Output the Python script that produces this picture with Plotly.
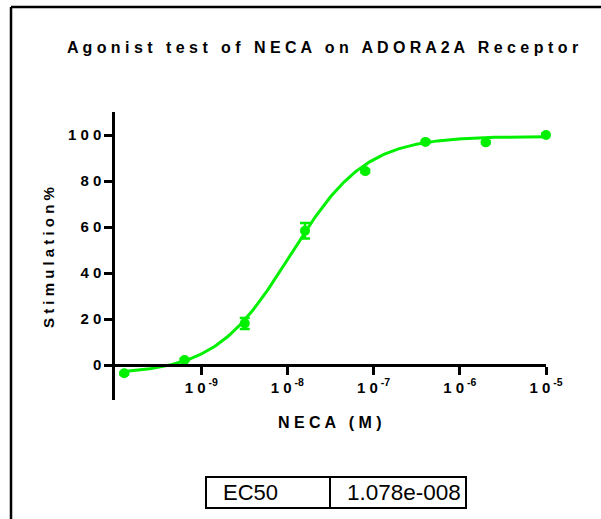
import numpy as np
import plotly.graph_objects as go

# ---- data ----
conc_M = [1.28e-10, 6.4e-10, 3.2e-9, 1.6e-8, 8.0e-8, 4.0e-7, 2.0e-6, 1.0e-5]
stim_pct = [-3.6, 2.2, 18.1, 58.4, 84.3, 97.0, 96.8, 100.0]
stim_err = [0.5, 0.5, 2.4, 3.4, 0.6, 0.5, 0.5, 0.5]

# 4-parameter logistic fit parameters (EC50 as reported)
fit_bottom = -4.0
fit_top = 99.4
fit_ec50 = 1.078e-8
fit_hill = 1.0

x_tick_vals = [1e-9, 1e-8, 1e-7, 1e-6, 1e-5]
x_tick_exps = ["-9", "-8", "-7", "-6", "-5"]
y_tick_vals = [0, 20, 40, 60, 80, 100]
table_labels = ["EC50", "1.078e-008"]

title_text = "Agonist test of NECA on ADORA2A Receptor"
x_title = "NECA (M)"
y_title = "Stimulation%"

GREEN = "#00F000"
FONT = "Arial, Liberation Sans, sans-serif"


def spaced(s):
    words = s.split(" ")
    return "   ".join(" ".join(list(w)) for w in words)


# fitted curve evaluated on the concentration span
xc = np.logspace(np.log10(conc_M[0]), np.log10(conc_M[-1]), 300)
yc = fit_bottom + (fit_top - fit_bottom) / (1 + (fit_ec50 / xc) ** fit_hill)

fig = go.Figure()
fig.add_trace(go.Scatter(x=xc, y=yc, mode="lines", cliponaxis=False,
                         line=dict(color=GREEN, width=3), hoverinfo="skip"))
fig.add_trace(go.Scatter(x=conc_M, y=stim_pct, mode="markers", cliponaxis=False,
                         marker=dict(color=GREEN, size=10),
                         error_y=dict(type="data", array=stim_err, visible=True,
                                      color=GREEN, thickness=2.5, width=5)))

W, H = 601, 519
L, T = 115, 112
R = W - 546
B = H - 400
ymin, ymax = -15.2, 110
pw, ph = W - L - R, H - T - B


def px_x(p):
    return (p - L) / pw


def px_y(p):
    return (H - B - p) / ph


fig.update_layout(
    width=W, height=H,
    margin=dict(l=L, r=R, t=T, b=B, pad=0),
    paper_bgcolor="white", plot_bgcolor="white",
    showlegend=False,
    font=dict(family=FONT, color="black"),
    xaxis=dict(type="log", range=[-10, -5], showgrid=False, zeroline=False,
               showline=True, linecolor="black", linewidth=2.5,
               ticks="outside", ticklen=8, tickwidth=2.5, tickcolor="black",
               tickvals=x_tick_vals,
               ticktext=["<b>1 0<sup> %s</sup></b>" % e for e in x_tick_exps],
               tickfont=dict(size=15, family=FONT, color="black"),
               anchor="free", position=(0 - ymin) / (ymax - ymin)),
    yaxis=dict(range=[ymin, ymax], showgrid=False, zeroline=False,
               showline=True, linecolor="black", linewidth=2.5,
               ticks="outside", ticklen=8, tickwidth=2.5, tickcolor="black",
               tickvals=y_tick_vals,
               ticktext=["<b>%s</b>" % " ".join(str(v)) for v in y_tick_vals],
               tickfont=dict(size=15, family=FONT, color="black")),
)

ann = []
ann.append(dict(text="<b>%s</b>" % spaced(title_text), xref="paper", yref="paper",
                x=px_x(322), y=px_y(47), showarrow=False,
                font=dict(size=16, family=FONT, color="black"),
                xanchor="center", yanchor="middle"))
ann.append(dict(text="<b>%s</b>" % spaced(x_title), xref="paper", yref="paper",
                x=px_x(330), y=px_y(422), showarrow=False,
                font=dict(size=16, family=FONT, color="black"),
                xanchor="center", yanchor="middle"))
ann.append(dict(text="<b>%s</b>" % " ".join(list(y_title)), xref="paper", yref="paper",
                x=px_x(48), y=px_y(258), showarrow=False, textangle=-90,
                font=dict(size=15, family=FONT, color="black"),
                xanchor="center", yanchor="middle"))
# table text
ann.append(dict(text=table_labels[0], xref="paper", yref="paper",
                x=px_x(221), y=px_y(492.5), showarrow=False,
                font=dict(size=22, family=FONT, color="black"),
                xanchor="left", yanchor="middle"))
ann.append(dict(text=table_labels[1], xref="paper", yref="paper",
                x=px_x(345), y=px_y(492.5), showarrow=False,
                font=dict(size=22.5, family=FONT, color="black"),
                xanchor="left", yanchor="middle"))
fig.update_layout(annotations=ann)

shapes = []
# outer frame: only left and top edges are visible in the reference
shapes.append(dict(type="line", xref="paper", yref="paper",
                   x0=px_x(11), x1=px_x(11), y0=px_y(560), y1=px_y(7),
                   line=dict(color="black", width=2.5)))
shapes.append(dict(type="line", xref="paper", yref="paper",
                   x0=px_x(11), x1=px_x(700), y0=px_y(7), y1=px_y(7),
                   line=dict(color="black", width=2.5)))
# results table
shapes.append(dict(type="rect", xref="paper", yref="paper",
                   x0=px_x(206), x1=px_x(466), y0=px_y(508), y1=px_y(477),
                   line=dict(color="black", width=2)))
shapes.append(dict(type="line", xref="paper", yref="paper",
                   x0=px_x(330), x1=px_x(330), y0=px_y(508), y1=px_y(477),
                   line=dict(color="black", width=2)))
fig.update_layout(shapes=shapes)

fig.write_html(
    "out.html",
    config={"displayModeBar": False},
    post_script="document.body.style.margin='0';"
                "document.documentElement.style.overflow='hidden';"
                "document.body.style.overflow='hidden';",
)
